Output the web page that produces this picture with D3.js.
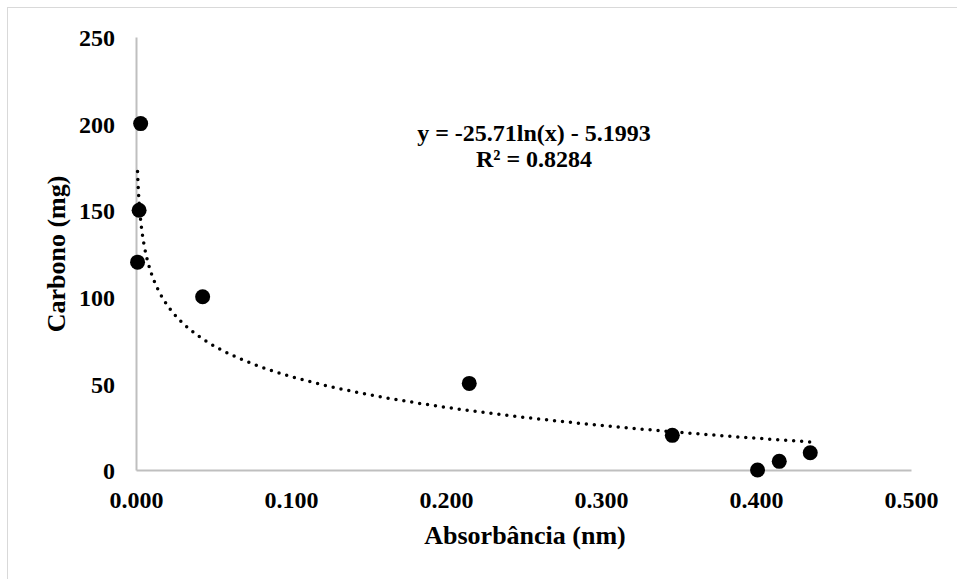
<!DOCTYPE html>
<html>
<head>
<meta charset="utf-8">
<script src="https://cdn.jsdelivr.net/npm/d3@7/dist/d3.min.js"></script>
<style>
  html, body { margin: 0; padding: 0; background: #fff; }
  svg { display: block; }
  text { font-family: "Liberation Serif", "Times New Roman", serif; font-weight: bold; fill: #000; }
</style>
</head>
<body>
<svg id="chart" width="957" height="579"></svg>
<script>
// Measured samples: absorbance (nm) vs carbon (mg)
const absorbance = [0.003, 0.002, 0.001, 0.043, 0.215, 0.346, 0.401, 0.415, 0.435];
const carbon     = [200,   150,   120,   100,   50,    20,    0,     5,     10];

// Logarithmic fit shown on the chart: y = a*ln(x) + b
const fitA = -25.71;
const fitB = -5.1993;
const fitLabel = ["y = -25.71ln(x) - 5.1993", "R² = 0.8284"];

const xTicks = [0, 0.1, 0.2, 0.3, 0.4, 0.5];
const yTicks = [0, 50, 100, 150, 200, 250];

const xTitle = "Absorbância (nm)";
const yTitle = "Carbono (mg)";

const svg = d3.select("#chart");
const W = 957, H = 579;
const plot = { left: 136, right: 911, top: 37, bottom: 470 };

// chart frame
svg.append("rect")
  .attr("x", 7.5).attr("y", 7.5)
  .attr("width", W + 10).attr("height", H + 10)
  .attr("fill", "#fff").attr("stroke", "#d9d9d9").attr("stroke-width", 1);

const x = d3.scaleLinear().domain([0, 0.5]).range([plot.left, plot.right]);
const y = d3.scaleLinear().domain([0, 250]).range([plot.bottom, plot.top]);

// x axis
const xAxis = svg.append("g")
  .attr("transform", `translate(0,${plot.bottom})`)
  .call(d3.axisBottom(x).tickValues(xTicks).tickFormat(d3.format(".3f")).tickSize(0));
xAxis.select(".domain").attr("stroke", "#bfbfbf").attr("stroke-width", 2);
xAxis.selectAll("text").attr("font-size", 24).attr("font-family", null)
  .attr("dy", "0").attr("y", 38);

// y axis
const yAxis = svg.append("g")
  .attr("transform", `translate(${plot.left},0)`)
  .call(d3.axisLeft(y).tickValues(yTicks).tickFormat(d3.format("d")).tickSize(0).tickPadding(21));
yAxis.select(".domain").attr("stroke", "#bfbfbf").attr("stroke-width", 2);
yAxis.selectAll("text").attr("font-size", 24).attr("font-family", null).attr("dy", "0.36em");

// trendline
const xMin = d3.min(absorbance), xMax = d3.max(absorbance);
const fitPts = d3.range(0, 401).map(i => {
  const xv = xMin * Math.pow(xMax / xMin, i / 400);
  return [xv, fitA * Math.log(xv) + fitB];
});
svg.append("path")
  .datum(fitPts)
  .attr("fill", "none")
  .attr("stroke", "#000")
  .attr("stroke-width", 3.5)
  .attr("stroke-linecap", "round")
  .attr("stroke-dasharray", "0 8")
  .attr("d", d3.line().x(d => x(d[0])).y(d => y(d[1])));

// data points
svg.append("g").selectAll("circle")
  .data(absorbance.map((a, i) => ({ a, c: carbon[i] })))
  .join("circle")
  .attr("cx", d => x(d.a))
  .attr("cy", d => y(d.c))
  .attr("r", 7.5)
  .attr("fill", "#000");

// fit equation
svg.append("text")
  .attr("x", 534).attr("y", 141)
  .attr("text-anchor", "middle").attr("font-size", 24)
  .text(fitLabel[0]);
svg.append("text")
  .attr("x", 534).attr("y", 167)
  .attr("text-anchor", "middle").attr("font-size", 24)
  .text(fitLabel[1]);

// axis titles
svg.append("text")
  .attr("x", 525).attr("y", 544)
  .attr("text-anchor", "middle").attr("font-size", 26)
  .text(xTitle);
svg.append("text")
  .attr("transform", "translate(65,254) rotate(-90)")
  .attr("text-anchor", "middle").attr("font-size", 26)
  .text(yTitle);
</script>
</body>
</html>
